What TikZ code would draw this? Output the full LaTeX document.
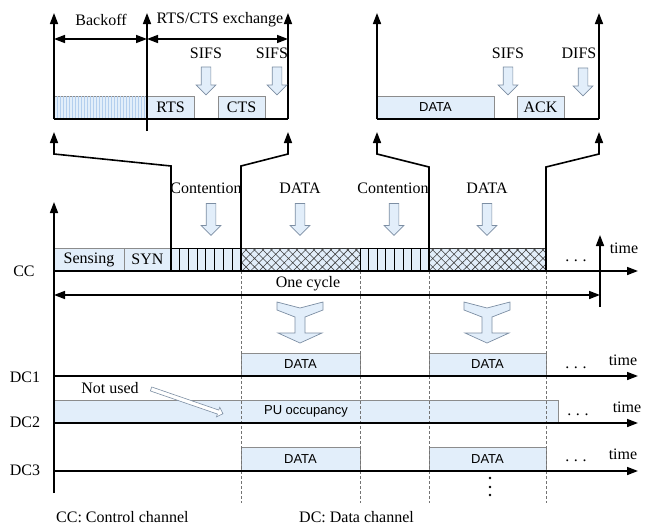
\documentclass[tikz,border=0pt]{standalone}
\usepackage{fontspec}
\setmainfont{Liberation Serif}
\setsansfont{Liberation Sans}
\definecolor{slotBlue}{HTML}{E2EEFA}
\definecolor{slotEdge}{HTML}{8C8C8C}
\definecolor{hintEdge}{HTML}{7C8EA3}
\definecolor{backoffLine}{HTML}{B4CFEE}
\usetikzlibrary{arrows.meta, positioning, shapes.arrows, patterns.meta}
\newcommand{\wdots}{.\kern4.6pt.\kern4.6pt.}

\begin{document}
\begin{tikzpicture}[
    x=1pt, y=-1pt,
    line join=miter,
    lbl/.style={font=\fontsize{16}{18}\selectfont, inner sep=0pt},
    slot/.style={
      draw=slotEdge,
      fill=slotBlue,
      line width=0.7pt,
      anchor=south west,
      minimum height=23pt,
      inner sep=0pt,
      outer sep=0pt,
      font=\fontsize{16}{18}\selectfont,
    },
    sansslot/.style={slot, font=\sffamily\fontsize{13}{15}\selectfont},
    hatched/.style={draw=black!80, postaction={pattern={Hatch[angle=45,distance=6pt,line width=0.6pt]}, pattern color=black!75}},
    axis/.style={line width=1.6pt, -{Triangle[length=11pt,width=8pt]}},
    span/.style={line width=1.6pt, {Triangle[length=11pt,width=8pt]}-{Triangle[length=11pt,width=8pt]}},
    hint/.style={single arrow, draw=hintEdge, fill=slotBlue, line width=0.7pt, rotate=-90,
      inner sep=4.5pt, single arrow head extend=5pt, minimum height=28pt},
    cut/.style={dash pattern=on 3pt off 2pt, black!55, line width=0.6pt},
  ]
    \useasboundingbox (0,0) rectangle (654,530);

    % Top-left panel: backoff and RTS/CTS
    \node[slot, minimum width=93pt,
      postaction={pattern={Lines[angle=90,distance=3pt,line width=0.5pt]}, pattern color=backoffLine}] (bkf) at (54,119) {};
    \node[slot, minimum width=47pt] (rts) at (147,119) {RTS};
    \node[slot, minimum width=47pt] (cts) at (218,119) {CTS};
    \draw[line width=1.6pt] (bkf.south west) -- (288,119);
    \draw[axis] (bkf.south west) -- (54,13);
    \draw[axis] (147,131) -- (147,13);
    \draw[axis] (288,119) -- (288,13);
    \draw[span] (54,39) -- (147,39);
    \draw[span] (147,39) -- (288,39);
    \node[lbl] (bkfL) at (101,20) {Backoff};
    \node[lbl] (xchL) at (220,20) {RTS/CTS exchange};
    \node[lbl] (sifsAL) at (206,53) {SIFS};
    \node[hint] (sifsA) at (206,78.5) {};
    \node[lbl] (sifsBL) at (272,53) {SIFS};
    \node[hint] (sifsB) at (277,78.5) {};

    % Top-right panel: DATA and ACK
    \node[sansslot, minimum width=117pt] (datT) at (377,119) {DATA};
    \node[slot, minimum width=47pt] (ack) at (517,119) {ACK};
    \draw[line width=1.6pt] (datT.south west) -- (599,119);
    \draw[axis] (datT.south west) -- (377,13);
    \draw[axis] (599,119) -- (599,13);
    \node[lbl] (sifsCL) at (508,53) {SIFS};
    \node[hint] (sifsC) at (508,78.5) {};
    \node[lbl] (difsL) at (579,53) {DIFS};
    \node[hint] (difs) at (583,79.5) {};

    % Control channel
    \node[slot, minimum width=70pt] (sns) at (54,271) {Sensing};
    \node[slot, minimum width=47pt] (syn) at (124,271) {SYN};
    \node[slot, draw=black, minimum width=70pt] (con1) at (171,271) {};
    \node[slot, hatched, minimum width=119pt] (dat1) at (241,271) {};
    \node[slot, draw=black, minimum width=69pt] (con2) at (360,271) {};
    \node[slot, hatched, minimum width=117pt] (dat2) at (429,271) {};
    \foreach \k in {1,...,7} {
      \draw[line width=0.8pt] ([xshift=\k*8.7pt]con1.south west) -- ([xshift=\k*8.7pt]con1.north west);
      \draw[line width=0.8pt] ([xshift=\k*8.6pt]con2.south west) -- ([xshift=\k*8.6pt]con2.north west);
    }
    \node[lbl] (conAL) at (206,188) {Contention};
    \node[hint, minimum height=32pt] (conA) at (211,217) {};
    \node[lbl] (datAL) at (300,188) {DATA};
    \node[hint, minimum height=32pt] (datA) at (300,217) {};
    \node[lbl] (conBL) at (393,188) {Contention};
    \node[hint, minimum height=32pt] (conB) at (394,217) {};
    \node[lbl] (datBL) at (487,188) {DATA};
    \node[hint, minimum height=32pt] (datB) at (487,217) {};

    % Zoom lines up to the panels
    \draw[axis] (con1.south west) -- (171,166) -- (54,154) -- (54,132);
    \draw[axis] (dat1.south west) -- (241,166) -- (288,154) -- (288,132);
    \draw[axis] (dat2.south west) -- (429,167) -- (377,154) -- (377,132);
    \draw[axis] (dat2.south east) -- (546,167) -- (599,154) -- (599,132);

    % Data channels
    \node[sansslot, minimum width=119pt] (d1a) at (241,376) {DATA};
    \node[sansslot, minimum width=117pt] (d1b) at (429,376) {DATA};
    \node[sansslot, minimum width=504pt] (pu) at (54,423) {PU occupancy};
    \node[sansslot, minimum width=119pt, minimum height=24pt] (d3a) at (241,471) {DATA};
    \node[sansslot, minimum width=117pt, minimum height=24pt] (d3b) at (429,471) {DATA};

    \foreach \xx in {241,360,429,546}
      \draw[cut] (\xx,271) -- (\xx,503);

    % Axes
    \draw[axis] (54,493) -- (54,202);
    \draw[axis] (54,271) -- (638,271);
    \draw[axis] (600,307) -- (600,235);
    \draw[axis] (54,376) -- (638,376);
    \draw[axis] (54,423) -- (638,423);
    \draw[axis] (54,471) -- (638,471);
    \draw[span] (54,295) -- (600,295);
    \node[lbl] (cycL) at (308,284) {One cycle};

    % Channel-allocation arrows
    \foreach \cx in {300,487}
      \draw[draw=hintEdge, fill=slotBlue, line width=0.7pt]
        (\cx-23,302) -- (\cx,308) -- (\cx+23,302) -- (\cx+23,310) -- (\cx+5,317) -- (\cx+5,333)
        -- (\cx+22,333) -- (\cx,343) -- (\cx-22,333) -- (\cx-5,333) -- (\cx-5,317) -- (\cx-23,310) -- cycle;

    % Not used
    \node[lbl] (nu) at (110,388) {Not used};
    \node[single arrow, draw=hintEdge, fill=white, line width=0.6pt, inner sep=1.8pt,
      single arrow head extend=3pt, minimum height=76pt, rotate=-19] (nuA) at (186,401) {};

    % Labels
    \node[lbl] (ccL) at (24,271) {CC};
    \node[lbl] (dc1L) at (25,377) {DC1};
    \node[lbl] (dc2L) at (25,422) {DC2};
    \node[lbl] (dc3L) at (25,470) {DC3};
    \node[lbl] (t0) at (624,248) {time};
    \node[lbl] (t1) at (623,360) {time};
    \node[lbl] (t2) at (627,407) {time};
    \node[lbl] (t3) at (623,454) {time};
    \node[lbl, anchor=base] (dt0) at (576,261) {\wdots};
    \node[lbl, anchor=base] (dt1) at (576,368) {\wdots};
    \node[lbl, anchor=base] (dt2) at (578,415) {\wdots};
    \node[lbl, anchor=base] (dt3) at (576,461) {\wdots};
    \foreach \yy in {478,487,495}
      \fill (490,\yy) circle (1.3pt);
    \node[lbl, anchor=west] (ccKey) at (56,517) {CC: Control channel};
    \node[lbl, anchor=west] (dcKey) at (299,517) {DC: Data channel};
  \end{tikzpicture}
\end{document}
